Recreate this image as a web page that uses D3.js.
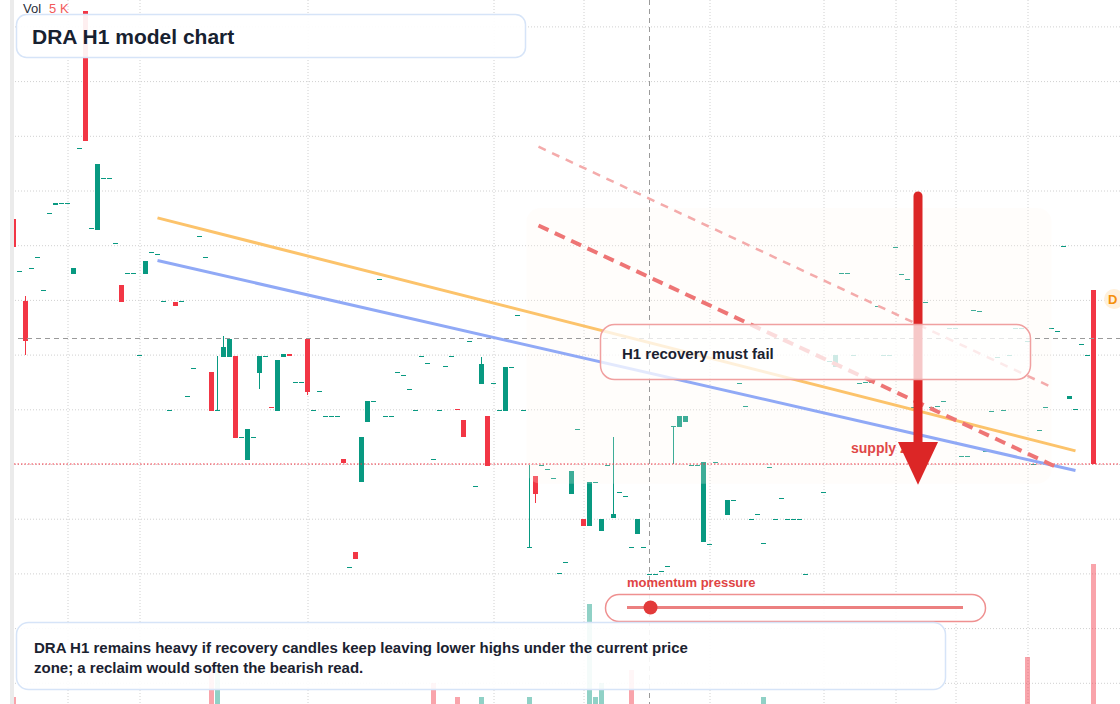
<!DOCTYPE html>
<html>
<head>
<meta charset="utf-8">
<script src="https://cdn.jsdelivr.net/npm/d3@7"></script>
<style>
  html, body { margin: 0; padding: 0; background: #fff; overflow: hidden; }
  svg { display: block; font-family: "Liberation Sans", Arial, sans-serif; }
</style>
</head>
<body>
<svg id="chart" width="1120" height="704"></svg>
<script>
// ---- data (H1 bars, one slot per hour; null = no bar) ----
const opens = [
  26.24, 25.76, 25.49, 25.79, 25.89, 25.59, 26.29, 26.37, 26.39, 26.39,
  25.74, 26.89, 28.14, 26.16, 26.14, 26.61, 26.61, 26.02, 25.64, 25.75,
  25.75, 25.00, 25.74, 25.94, 25.92, 25.49, 24.49, 25.48, 25.49, 24.62,
  24.88, 26.08, 25.89, 24.84, 24.49, 24.98, 24.98, 24.99, 24.25, 24.04,
  24.25, 24.83, 24.99, 24.52, 24.48, 24.98, 25.01, 24.75, 24.75, 25.14,
  24.49, 24.67, 24.44, 24.44, 24.44, 24.05, 23.06, 23.20, 23.84, 24.38,
  24.58, 25.69, 24.44, 24.44, 24.84, 24.81, 24.69, 24.49, 24.99, 24.92,
  24.05, 24.49, 24.90, 24.99, 24.50, 24.40, 25.12, 23.80, 24.73, 24.44,
  24.74, 24.49, 24.48, 24.89, 25.36, 24.49, 23.24, 23.89, 23.99, 23.95,
  23.87, 23.00, 23.10, 23.73, 24.32, 23.50, 23.43, 23.84, 23.39, 23.99,
  23.51, 23.74, 23.71, 23.24, 23.36, 23.24, 22.99, 22.99, 23.02, 23.07,
  24.35, 24.34, 24.38, 23.99, 23.99, 23.29, 23.27, 24.02, null, 23.53,
  23.67, 24.74, 24.53, 23.50, 23.54, 23.28, 23.97, 23.50, 23.69, 23.50,
  23.50, 23.50, 22.99, null, null, 23.74, 24.94, 24.89, 25.75, 25.75,
  25.00, 24.74, 24.75, 24.75, 25.44, 25.00, 25.00, 25.98, 25.74, 25.69,
  24.52, null, 25.48, 24.52, 24.53, 24.58, 25.24, 25.24, 24.07, 24.07,
  25.41, 25.40, 24.12, 24.48, 24.98, 24.49, 25.00, 25.24, 25.24, 25.12,
  24.00, 24.31, 24.52, 25.24, 25.22, 25.99, 24.59, 24.50, 25.10, 25.00,
  25.59
];
const closes = [
  25.98, 25.76, 25.12, 25.79, 25.89, 25.59, 26.29, 26.39, 26.39, 26.39,
  25.79, 26.89, 26.95, 26.16, 26.74, 26.61, 26.61, 26.02, 25.48, 25.75,
  25.75, 25.00, 25.86, 25.94, 25.92, 25.49, 24.49, 25.44, 25.49, 24.62,
  24.88, 26.08, 25.89, 24.48, 24.49, 25.07, 25.14, 24.24, 24.25, 24.32,
  24.25, 24.99, 24.99, 24.51, 24.95, 25.01, 24.99, 24.75, 24.75, 24.66,
  24.49, 24.67, 24.44, 24.44, 24.44, 24.01, 23.06, 23.13, 24.25, 24.58,
  24.58, 25.69, 24.44, 24.44, 24.84, 24.81, 24.69, 24.49, 24.99, 24.92,
  24.05, 24.49, 24.90, 24.99, 24.49, 24.25, 25.12, 23.80, 24.91, 23.98,
  24.74, 24.49, 24.89, 24.89, 25.36, 24.49, 23.24, 23.73, 23.99, 23.95,
  23.87, 23.00, 23.10, 23.94, 24.32, 23.43, 23.84, 23.84, 23.50, 23.99,
  23.54, 23.74, 23.71, 23.24, 23.50, 23.24, 22.99, 22.99, 23.02, 23.07,
  24.35, 24.44, 24.44, 23.99, 23.99, 24.02, 23.27, 24.02, null, 23.67,
  23.67, 24.74, 24.53, 23.50, 23.54, 23.28, 23.97, 23.50, 23.69, 23.50,
  23.50, 23.50, 22.99, null, null, 23.74, 24.94, 25.00, 25.75, 25.75,
  25.00, 24.74, 24.75, 24.75, 25.44, 25.00, 25.00, 25.98, 25.74, 25.69,
  24.52, null, 25.48, 24.52, 24.53, 24.58, 25.24, 25.24, 24.07, 24.07,
  25.41, 25.40, 24.12, 24.48, 24.98, 24.49, 25.00, 25.24, 25.24, 25.12,
  24.00, 24.31, 24.52, 25.24, 25.22, 25.99, 24.62, 24.50, 25.10, 25.00,
  24.00
];
// wicks that reach past the body (slot -> price)
const wickHighs = { 2: 25.54, 34: 24.99, 35: 25.17, 78: 24.98, 86: 23.99, 100: 24.25 };
const wickLows = { 2: 25.00, 41: 24.69, 49: 24.63, 87: 23.64, 110: 24.00 };

// volume, thousands (only bars tall enough to show)
const volumeSlots = [0, 33, 34, 70, 74, 78, 86, 96, 97, 98, 103, 125, 169, 180];
const volumeK     = [0.25, 1.21, 1.32, 0.75, 0.25, 0.25, 0.25, 3.57, 0.25, 0.75, 1.21, 0.25, 1.68, 5.0];
const volumeUp    = [false, false, true, false, false, true, true, true, true, true, false, true, false, false];

const priceTicks = [22, 22.5, 23, 23.5, 24, 24.5, 25, 25.5, 26, 26.5, 27, 27.5, 28];
const timeGridSlots = [9, 21, 49, 80, 95, 116, 135, 147, 157, 169];

// drawn studies: [slot, price]
const fastLine = [[24, 26.25], [177, 24.12]];
const slowLine = [[24, 25.86], [177, 23.94]];
const channelUpper = [[87.5, 26.90], [173.5, 24.69]];
const channelLower = [[87.5, 26.18], [173.5, 23.98]];
const supplyZone = { from: 85.5, to: 173, top: 26.34, bottom: 23.82 };
const arrowPath = { slot: 150.75, start: 26.45, head: 24.20, tip: 23.81 };
const crosshair = { slot: 106, price: 25.15 };
const momentum = 0.07; // share of the gauge

const titleText = 'DRA H1 model chart';
const noteText = 'H1 recovery must fail';
const zoneText = 'supply zone';
const gaugeText = 'momentum pressure';
const captionLines = [
  'DRA H1 remains heavy if recovery candles keep leaving lower highs under the current price',
  'zone; a reclaim would soften the bearish read.'
];

// ---- chart ----
const W = 1120, H = 704;
const green = '#089981', red = '#f23645';

const x = d3.scaleLinear().domain([0, 180]).range([13.5, 1093.5]);
const y = d3.scaleLinear().domain([24, 28]).range([464, 26.4]);
const yVol = d3.scaleLinear().domain([0, 5]).range([H, 564]);

const svg = d3.select('#chart');
svg.append('rect').attr('width', W).attr('height', H).attr('fill', '#fff');

svg.append('defs').append('clipPath').attr('id', 'plot')
  .append('rect').attr('x', 14).attr('y', 0).attr('width', W - 14).attr('height', H);

// left scale strip
svg.append('rect').attr('x', 10).attr('y', 0).attr('width', 4).attr('height', H).attr('fill', '#ebebeb');

const plot = svg.append('g').attr('clip-path', 'url(#plot)');

// grid
plot.append('g')
  .call(d3.axisRight(y).tickValues(priceTicks).tickSize(W).tickFormat(''))
  .call(g => g.select('.domain').remove())
  .call(g => g.selectAll('line').attr('stroke', '#d0d0d0').attr('stroke-dasharray', '1,2'));
plot.append('g')
  .call(d3.axisBottom(x).tickValues(timeGridSlots).tickSize(H).tickFormat(''))
  .call(g => g.select('.domain').remove())
  .call(g => g.selectAll('line').attr('stroke', '#d0d0d0').attr('stroke-dasharray', '1,2'));

// volume
const vols = volumeSlots.map((s, k) => ({ s, v: volumeK[k], up: volumeUp[k] }));
plot.append('g').selectAll('rect').data(vols).join('rect')
  .attr('x', d => x(d.s) - 2.5)
  .attr('width', 5)
  .attr('y', d => yVol(d.v))
  .attr('height', d => H - yVol(d.v))
  .attr('fill', d => d.up ? green : red)
  .attr('fill-opacity', 0.45)
  .attr('shape-rendering', 'crispEdges');

// candles
const bars = d3.range(opens.length)
  .filter(i => opens[i] != null)
  .map(i => {
    const o = opens[i], c = closes[i];
    return {
      i, o, c,
      h: wickHighs[i] ?? Math.max(o, c),
      l: wickLows[i] ?? Math.min(o, c),
      up: c >= o
    };
  });

const candles = plot.append('g').attr('shape-rendering', 'crispEdges');
candles.selectAll('rect.wick').data(bars.filter(d => d.h > d.l)).join('rect')
  .attr('class', 'wick')
  .attr('x', d => x(d.i) - 0.5)
  .attr('width', 1)
  .attr('y', d => y(d.h))
  .attr('height', d => y(d.l) - y(d.h))
  .attr('fill', d => d.up ? green : red);
candles.selectAll('rect.body').data(bars).join('rect')
  .attr('class', 'body')
  .attr('x', d => x(d.i) - 2.5)
  .attr('width', 5)
  .attr('y', d => y(Math.max(d.o, d.c)))
  .attr('height', d => Math.max(1, Math.abs(y(d.o) - y(d.c))))
  .attr('fill', d => d.up ? green : red);

// supply zone wash
plot.append('rect')
  .attr('x', x(supplyZone.from))
  .attr('y', y(supplyZone.top))
  .attr('width', x(supplyZone.to) - x(supplyZone.from))
  .attr('height', y(supplyZone.bottom) - y(supplyZone.top))
  .attr('rx', 14)
  .attr('fill', '#fff6ef')
  .attr('fill-opacity', 0.22);

// crosshair
plot.append('line')
  .attr('x1', x(crosshair.slot)).attr('x2', x(crosshair.slot))
  .attr('y1', 0).attr('y2', H)
  .attr('stroke', '#9a9a9a').attr('stroke-dasharray', '5,4');
plot.append('line')
  .attr('x1', 0).attr('x2', W)
  .attr('y1', Math.round(y(crosshair.price)) + 0.5).attr('y2', Math.round(y(crosshair.price)) + 0.5)
  .attr('stroke', '#9a9a9a').attr('stroke-dasharray', '5,4');

// last price line
const lastClose = closes[closes.length - 1];
plot.append('line')
  .attr('x1', 0).attr('x2', W)
  .attr('y1', y(lastClose)).attr('y2', y(lastClose))
  .attr('stroke', red).attr('stroke-width', 1.2).attr('stroke-dasharray', '1.5,2');

// studies
const line = d3.line().x(d => x(d[0])).y(d => y(d[1]));
plot.append('path').attr('d', line(fastLine))
  .attr('fill', 'none').attr('stroke', '#fcc36b').attr('stroke-width', 3);
plot.append('path').attr('d', line(slowLine))
  .attr('fill', 'none').attr('stroke', '#90a9f6').attr('stroke-width', 3);
plot.append('path').attr('d', line(channelUpper))
  .attr('fill', 'none').attr('stroke', '#f4abab').attr('stroke-width', 2.5).attr('stroke-dasharray', '8,7');
plot.append('path').attr('d', line(channelLower))
  .attr('fill', 'none').attr('stroke', '#ee7575').attr('stroke-width', 4).attr('stroke-dasharray', '11,7');

// zone label
svg.append('text')
  .attr('x', 851).attr('y', 453)
  .attr('fill', '#e04848').attr('font-size', 14).attr('font-weight', 700)
  .text(zoneText);

// arrow
const ax = x(arrowPath.slot);
svg.append('line')
  .attr('x1', ax).attr('x2', ax)
  .attr('y1', y(arrowPath.start)).attr('y2', y(arrowPath.head) + 2)
  .attr('stroke', '#dc2626').attr('stroke-width', 9).attr('stroke-linecap', 'round');
svg.append('path')
  .attr('d', `M${ax - 20},${y(arrowPath.head)} L${ax + 20},${y(arrowPath.head)} L${ax},${y(arrowPath.tip)} Z`)
  .attr('fill', '#dc2626');

// note box
svg.append('rect')
  .attr('x', 600.5).attr('y', 324.5).attr('width', 430).attr('height', 55).attr('rx', 14)
  .attr('fill', '#fff').attr('fill-opacity', 0.75)
  .attr('stroke', '#f0a0a0').attr('stroke-width', 1.5);
svg.append('text')
  .attr('x', 622).attr('y', 359)
  .attr('fill', '#1b2230').attr('font-size', 15).attr('font-weight', 700)
  .text(noteText);

// title
svg.append('rect')
  .attr('x', 16.5).attr('y', 14.5).attr('width', 509).attr('height', 43).attr('rx', 10)
  .attr('fill', '#fff').attr('fill-opacity', 0.92)
  .attr('stroke', '#d6e4f8').attr('stroke-width', 1.5);
svg.append('text')
  .attr('x', 32).attr('y', 43.5)
  .attr('fill', '#172130').attr('font-size', 21).attr('font-weight', 700)
  .text(titleText);

// volume legend
const legend = svg.append('text').attr('x', 23).attr('y', 13).attr('font-size', 13);
legend.append('tspan').attr('fill', '#2a2e39').text('Vol');
legend.append('tspan').attr('dx', 8).attr('fill', '#f25a5a').text(`${volumeK[volumeK.length - 1]} K`);

// momentum gauge
const gx = d3.scaleLinear().domain([0, 1]).range([627, 963]);
svg.append('text')
  .attr('x', 627).attr('y', 587)
  .attr('fill', '#e04444').attr('font-size', 13).attr('font-weight', 700)
  .text(gaugeText);
svg.append('rect')
  .attr('x', 605.5).attr('y', 594.5).attr('width', 380).attr('height', 27).attr('rx', 13.5)
  .attr('fill', '#fff').attr('fill-opacity', 0.85)
  .attr('stroke', '#ef9090').attr('stroke-width', 1.5);
svg.append('line')
  .attr('x1', gx(0)).attr('x2', gx(1)).attr('y1', 607.5).attr('y2', 607.5)
  .attr('stroke', '#ec8080').attr('stroke-width', 3);
svg.append('circle')
  .attr('cx', gx(momentum)).attr('cy', 607.5).attr('r', 7)
  .attr('fill', '#e23a3a');

// caption
svg.append('rect')
  .attr('x', 16.5).attr('y', 622.5).attr('width', 929).attr('height', 67).attr('rx', 12)
  .attr('fill', '#fff').attr('fill-opacity', 0.9)
  .attr('stroke', '#d6e4f8').attr('stroke-width', 1.5);
svg.append('g').selectAll('text').data(captionLines).join('text')
  .attr('x', 34).attr('y', (d, k) => 653 + k * 20)
  .attr('fill', '#1b2230').attr('font-size', 15).attr('font-weight', 700)
  .text(d => d);

// price scale badge
svg.append('circle').attr('cx', 1114).attr('cy', 299).attr('r', 10).attr('fill', '#fff0db');
svg.append('text')
  .attr('x', 1108).attr('y', 304)
  .attr('fill', '#f5900b').attr('font-size', 13).attr('font-weight', 700)
  .text('D');
</script>
</body>
</html>
